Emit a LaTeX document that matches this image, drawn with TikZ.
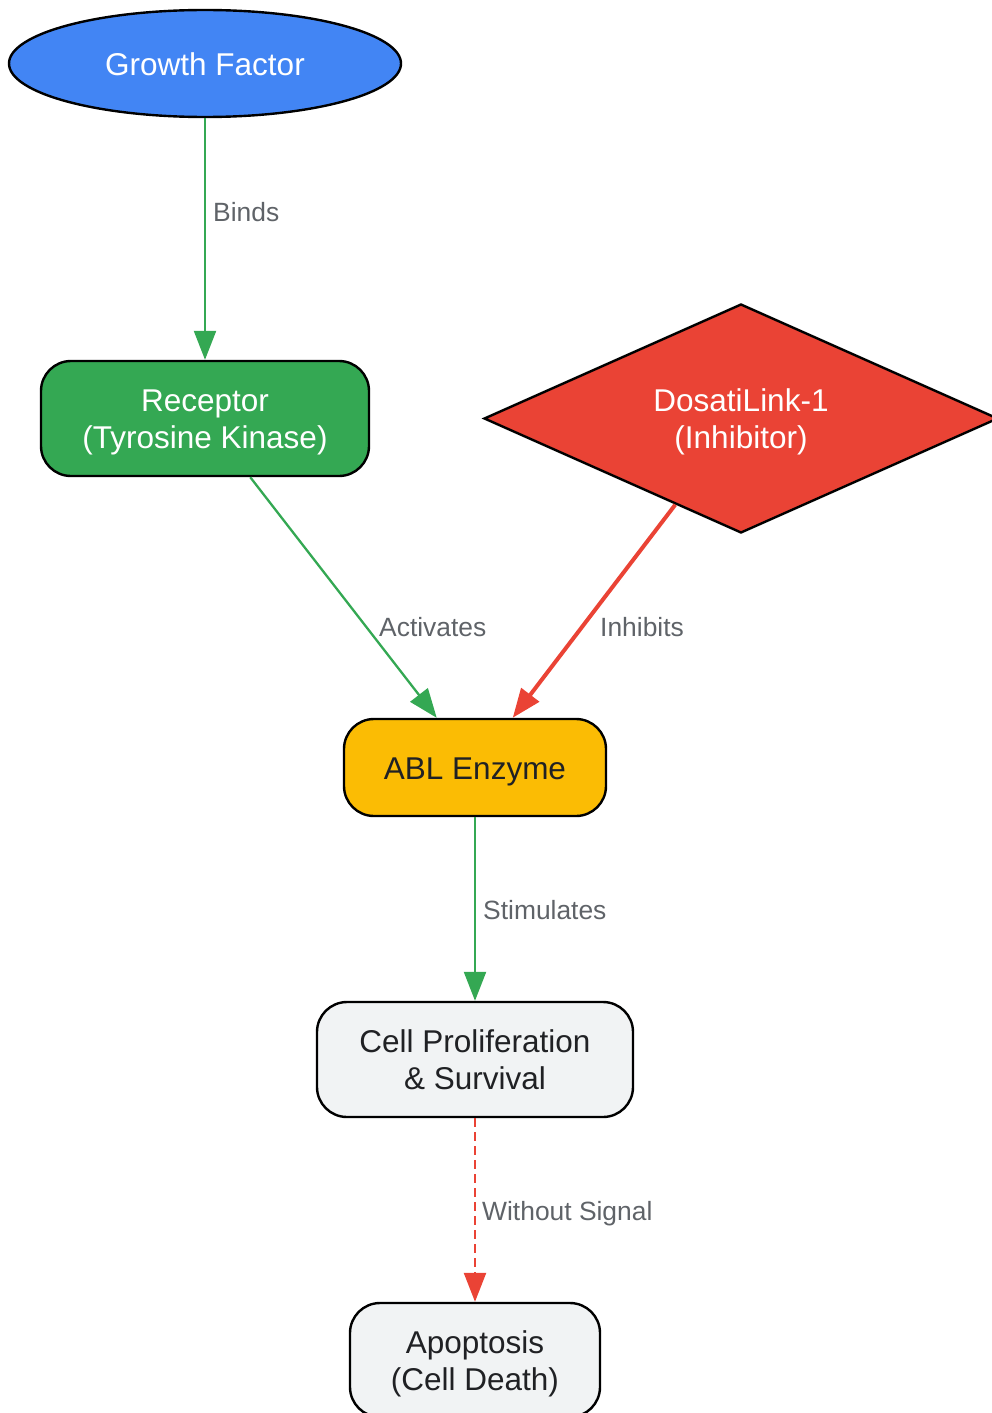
\documentclass[tikz,border=0pt]{standalone}
\usepackage{fontspec}
\setmainfont{Liberation Sans}
\usetikzlibrary{shapes.geometric,arrows.meta}
\definecolor{gblue}{HTML}{4285F4}
\definecolor{ggreen}{HTML}{34A853}
\definecolor{gred}{HTML}{EA4335}
\definecolor{gyellow}{HTML}{FBBC04}
\definecolor{glight}{HTML}{F1F3F4}
\definecolor{gtext}{HTML}{202124}
\definecolor{glabel}{HTML}{5F6368}
\tikzset{
  base/.style={draw=black, line width=2.4pt, inner sep=0pt, align=center,
    font=\fontsize{31.5}{37}\selectfont, text depth=0pt},
  oneline/.style={base, text height=23pt},
  twoline/.style={base, text height=60pt},
  roundbox/.style={rectangle, rounded corners=30pt},
  lbl/.style={inner sep=0pt, anchor=base west, text=glabel, font=\fontsize{26.4}{30}\selectfont},
  tip/.style={-{Triangle[length=29pt,width=22pt]}},
  greenedge/.style={tip, draw=ggreen, line width=2.3pt},
  rededge/.style={tip, draw=gred, line width=4pt},
  dashededge/.style={tip, draw=gred, line width=2.4pt, dash pattern=on 9pt off 5pt}
}
\begin{document}
\begin{tikzpicture}[x=1pt,y=-1pt]
\useasboundingbox (0,0) rectangle (992,1413);
\node[oneline, ellipse, fill=gblue, text=white, minimum width=392pt, minimum height=107pt] (gf) at (205,63.5) {Growth Factor};
\node[twoline, roundbox, fill=ggreen, text=white, minimum width=328pt, minimum height=115pt] (rec) at (205,418.5) {Receptor\\(Tyrosine Kinase)};
\node[twoline, diamond, fill=gred, text=white, minimum width=514pt, minimum height=229pt, aspect=2.245] (dl) at (741,418.5) {DosatiLink-1\\(Inhibitor)};
\node[oneline, roundbox, fill=gyellow, text=gtext, minimum width=262pt, minimum height=97pt] (abl) at (475,767.5) {ABL Enzyme};
\node[twoline, roundbox, fill=glight, text=gtext, minimum width=316pt, minimum height=115pt] (cell) at (475,1059.5) {Cell Proliferation\\\& Survival};
\node[twoline, roundbox, fill=glight, text=gtext, minimum width=250pt, minimum height=114pt] (apo) at (475,1360) {Apoptosis\\(Cell Death)};

\draw[greenedge] (gf) -- (rec);
\draw[greenedge] (rec) -- (abl);
\draw[rededge] (dl) -- (abl);
\draw[greenedge] (abl) -- (cell);
\draw[dashededge] (cell) -- (apo);

\node[lbl] (lbinds) at (213,221) {Binds};
\node[lbl] (lact) at (379,636) {Activates};
\node[lbl] (linh) at (600,636) {Inhibits};
\node[lbl] (lstim) at (483,919) {Stimulates};
\node[lbl] (lwo) at (482,1220) {Without Signal};
\end{tikzpicture}
\end{document}
